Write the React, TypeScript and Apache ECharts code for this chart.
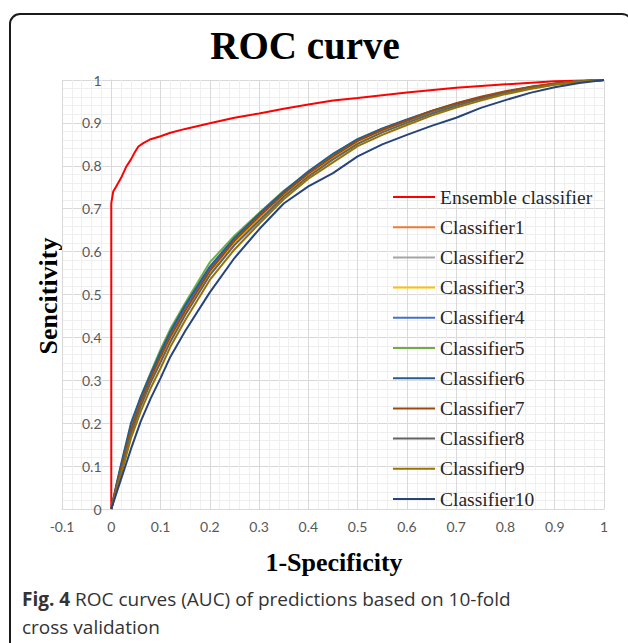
import React, { useEffect, useRef } from "react";
import * as echarts from "echarts";

const xTicks = { min: -0.1, max: 1, interval: 0.1 };

const ensembleX = [0, 0, 0.004, 0.01, 0.02, 0.03, 0.04, 0.048, 0.055, 0.065, 0.08, 0.1, 0.12, 0.15, 0.2, 0.25, 0.3, 0.35, 0.4, 0.45, 0.5, 0.6, 0.7, 0.8, 0.9, 1];
const ensembleY = [0, 0.713, 0.74, 0.752, 0.772, 0.797, 0.815, 0.832, 0.845, 0.853, 0.862, 0.869, 0.877, 0.886, 0.899, 0.912, 0.922, 0.933, 0.943, 0.952, 0.958, 0.971, 0.982, 0.99, 0.997, 1];

const fpr = [0, 0.01, 0.02, 0.04, 0.06, 0.08, 0.1, 0.12, 0.15, 0.2, 0.25, 0.3, 0.35, 0.4, 0.45, 0.5, 0.55, 0.6, 0.65, 0.7, 0.75, 0.8, 0.85, 0.9, 0.95, 1];

const c1 = [0, 0.05, 0.097, 0.188, 0.254, 0.308, 0.36, 0.408, 0.468, 0.558, 0.627, 0.684, 0.736, 0.781, 0.822, 0.857, 0.883, 0.905, 0.926, 0.944, 0.959, 0.972, 0.983, 0.991, 0.997, 1];
const c2 = [0, 0.047, 0.09, 0.178, 0.243, 0.298, 0.347, 0.395, 0.455, 0.548, 0.618, 0.676, 0.73, 0.777, 0.818, 0.853, 0.88, 0.902, 0.923, 0.941, 0.956, 0.969, 0.981, 0.99, 0.996, 1];
const c3 = [0, 0.048, 0.092, 0.18, 0.245, 0.3, 0.35, 0.398, 0.458, 0.552, 0.622, 0.68, 0.733, 0.779, 0.82, 0.855, 0.881, 0.903, 0.924, 0.942, 0.957, 0.97, 0.981, 0.99, 0.996, 1];
const c4 = [0, 0.052, 0.1, 0.19, 0.256, 0.31, 0.362, 0.41, 0.47, 0.56, 0.628, 0.685, 0.738, 0.783, 0.824, 0.859, 0.884, 0.905, 0.925, 0.943, 0.958, 0.971, 0.982, 0.991, 0.997, 1];
const c5 = [0, 0.05, 0.1, 0.195, 0.262, 0.318, 0.372, 0.42, 0.48, 0.575, 0.637, 0.69, 0.742, 0.785, 0.827, 0.862, 0.886, 0.907, 0.927, 0.944, 0.959, 0.972, 0.983, 0.991, 0.997, 1];
const c6 = [0, 0.055, 0.105, 0.2, 0.262, 0.315, 0.366, 0.414, 0.475, 0.565, 0.632, 0.688, 0.74, 0.787, 0.828, 0.862, 0.887, 0.908, 0.928, 0.945, 0.959, 0.972, 0.983, 0.991, 0.997, 1];
const c7 = [0, 0.05, 0.095, 0.185, 0.25, 0.305, 0.355, 0.402, 0.462, 0.555, 0.625, 0.682, 0.735, 0.782, 0.822, 0.858, 0.884, 0.906, 0.928, 0.946, 0.961, 0.974, 0.984, 0.992, 0.997, 1];
const c8 = [0, 0.045, 0.088, 0.175, 0.24, 0.295, 0.342, 0.39, 0.452, 0.545, 0.615, 0.672, 0.728, 0.775, 0.815, 0.851, 0.878, 0.9, 0.921, 0.94, 0.956, 0.97, 0.981, 0.99, 0.996, 1];
const c9 = [0, 0.04, 0.08, 0.165, 0.228, 0.282, 0.328, 0.378, 0.44, 0.534, 0.605, 0.665, 0.722, 0.77, 0.808, 0.846, 0.872, 0.895, 0.917, 0.936, 0.952, 0.967, 0.979, 0.989, 0.996, 1];
const c10 = [0, 0.035, 0.07, 0.14, 0.205, 0.258, 0.305, 0.355, 0.415, 0.505, 0.585, 0.652, 0.712, 0.752, 0.783, 0.822, 0.85, 0.872, 0.893, 0.912, 0.935, 0.953, 0.97, 0.983, 0.993, 1];

const seriesNames = ["Ensemble classifier", "Classifier1", "Classifier2", "Classifier3", "Classifier4", "Classifier5", "Classifier6", "Classifier7", "Classifier8", "Classifier9", "Classifier10"];
const seriesColors = ["#FF0000", "#ED7D31", "#A5A5A5", "#FFC000", "#4472C4", "#70AD47", "#255E91", "#9E480E", "#636363", "#997300", "#264478"];
const classifierYs = [c1, c2, c3, c4, c5, c6, c7, c8, c9, c10];

const fmt = (v: number) => String(Math.round(v * 10) / 10);

export default function App() {
  const ref = useRef<HTMLDivElement>(null);
  useEffect(() => {
    if (!ref.current) return;
    const chart = echarts.init(ref.current, null, { renderer: "svg" });
    const data: any[] = [ensembleX.map((x, i) => [x, ensembleY[i]])];
    classifierYs.forEach((ys) => data.push(fpr.map((x, i) => [x, ys[i]])));
    const series = seriesNames.map((name, i) => ({
      name,
      type: "line",
      data: data[i],
      symbol: "none",
      lineStyle: { color: seriesColors[i], width: 2 },
      itemStyle: { color: seriesColors[i] },
      z: 2,
    }));
    chart.setOption({
      animation: false,
      backgroundColor: "#ffffff",
      grid: { left: 62, right: 24, top: 80, bottom: 134, containLabel: false },
      xAxis: {
        type: "value",
        min: xTicks.min,
        max: xTicks.max,
        interval: xTicks.interval,
        axisLine: { show: true, onZero: false, lineStyle: { color: "#d9d9d9", width: 1 } },
        axisTick: { show: false },
        axisLabel: { color: "#595959", fontFamily: "Lato", fontSize: 14, margin: 10, formatter: fmt },
        splitLine: { show: true, lineStyle: { color: "#d9d9d9", width: 1 } },
        minorTick: { show: false, splitNumber: 5 },
        minorSplitLine: { show: true, lineStyle: { color: "#efefef", width: 1 } },
      },
      yAxis: {
        type: "value",
        min: 0,
        max: 1,
        interval: 0.1,
        position: "left",
        offset: -49.5,
        axisLine: { show: true, onZero: false, lineStyle: { color: "#d9d9d9", width: 1 } },
        axisTick: { show: false },
        axisLabel: { color: "#595959", fontFamily: "Lato", fontSize: 14, margin: 10, formatter: fmt },
        splitLine: { show: true, lineStyle: { color: "#d9d9d9", width: 1 } },
        minorTick: { show: false, splitNumber: 5 },
        minorSplitLine: { show: true, lineStyle: { color: "#efefef", width: 1 } },
      },
      legend: {
        orient: "vertical",
        left: 392,
        top: 187,
        padding: 0,
        itemWidth: 42,
        itemHeight: 20,
        itemGap: 10.2,
        itemStyle: { opacity: 0 },
        textStyle: { fontFamily: "Liberation Serif", fontSize: 19.5, color: "#262626", lineHeight: 20, padding: [0, 0, 0, 0] },
        data: seriesNames,
      },
      graphic: [
        {
          type: "rect",
          shape: { x: 10, y: 14, width: 622, height: 660, r: 10 },
          style: { fill: "none", stroke: "#1a1a1a", lineWidth: 2 },
          silent: true,
          z: 100,
        },
        {
          type: "text",
          x: 305,
          y: 45,
          style: { text: "ROC curve", font: "bold 39px 'Liberation Serif'", fill: "#000", align: "center", verticalAlign: "middle" },
        },
        {
          type: "text",
          x: 334,
          y: 562,
          style: { text: "1-Specificity", font: "bold 26px 'Liberation Serif'", fill: "#000", align: "center", verticalAlign: "middle" },
        },
        {
          type: "text",
          x: 48,
          y: 296,
          rotation: Math.PI / 2,
          style: { text: "Sencitivity", font: "bold 26px 'Liberation Serif'", fill: "#000", align: "center", verticalAlign: "middle" },
        },
        {
          type: "text",
          x: 22,
          y: 599,
          style: {
            text: "{b|Fig. 4} ROC curves (AUC) of predictions based on 10-fold",
            font: "19px 'Open Sans'",
            fill: "#333",
            verticalAlign: "middle",
            rich: { b: { fontFamily: "Open Sans", fontWeight: "bold", fontSize: 19, fill: "#333" } },
          },
        },
        {
          type: "text",
          x: 22,
          y: 627,
          style: { text: "cross validation", font: "19px 'Open Sans'", fill: "#333", verticalAlign: "middle" },
        },
      ],
      series,
    });
    return () => chart.dispose();
  }, []);
  return <div ref={ref} style={{ position: "absolute", left: 0, top: 0, width: 628, height: 643 }} />;
}
